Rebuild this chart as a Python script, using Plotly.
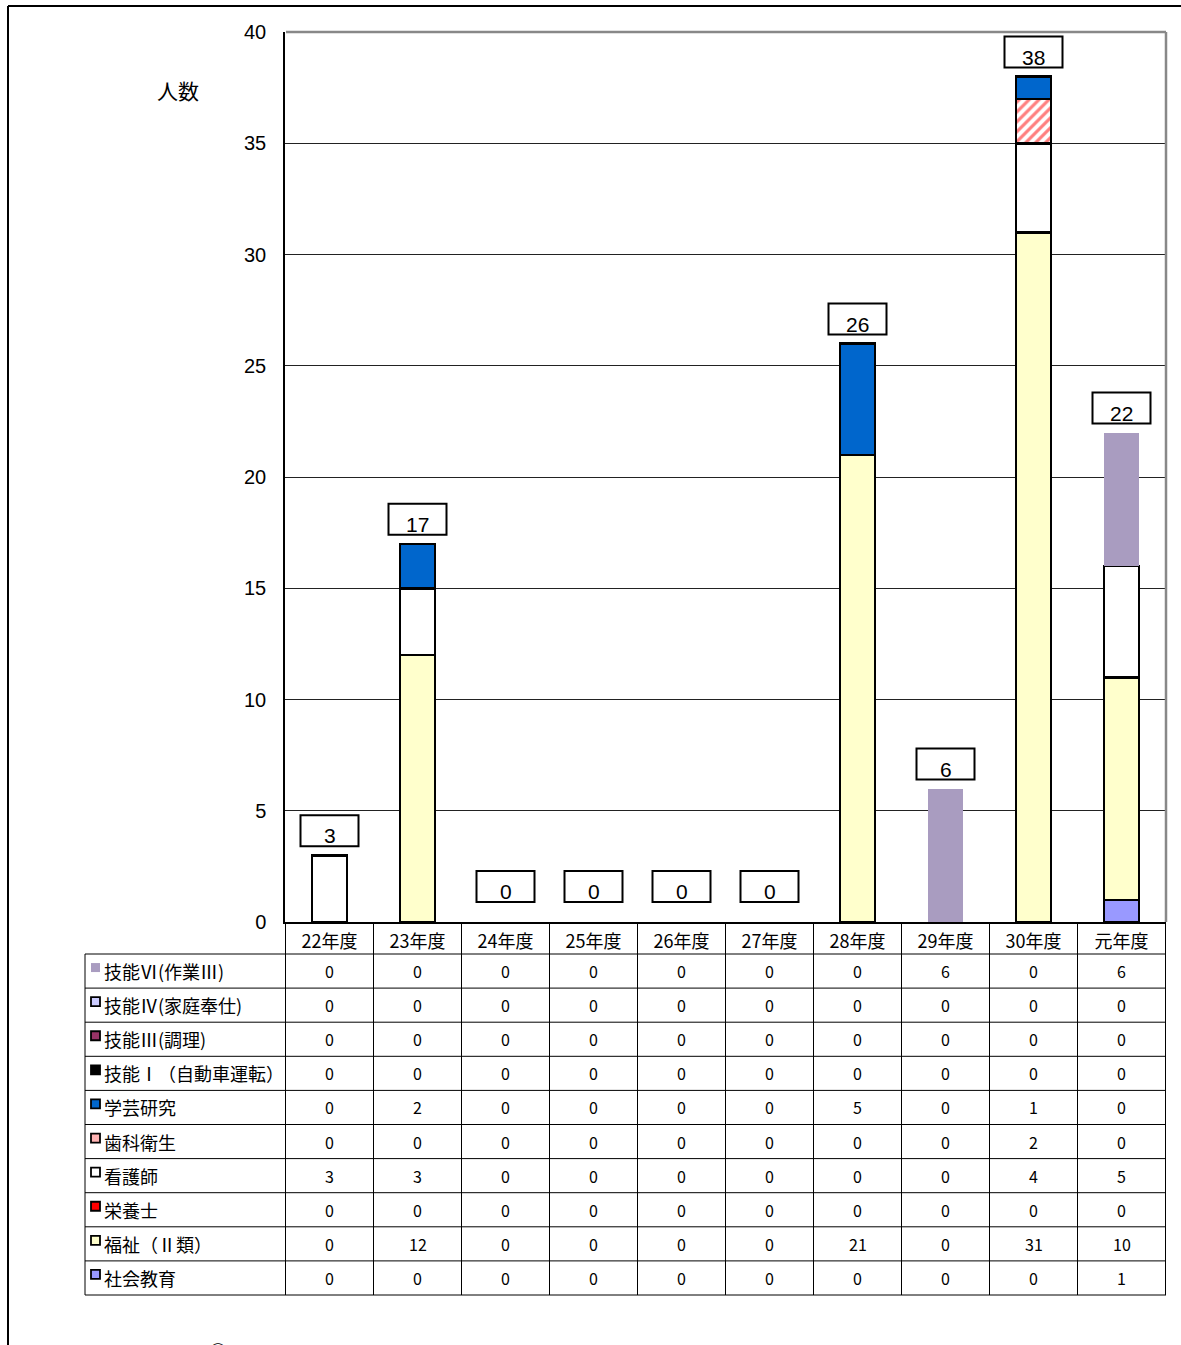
import plotly.graph_objects as go

# ---------------- data ----------------
categories = ["22年度", "23年度", "24年度", "25年度", "26年度", "27年度", "28年度", "29年度", "30年度", "元年度"]

# table rows (top to bottom)
row_names = ["技能Ⅵ(作業Ⅲ)", "技能Ⅳ(家庭奉仕)", "技能Ⅲ(調理)", "技能Ⅰ（自動車運転）",
             "学芸研究", "歯科衛生", "看護師", "栄養士", "福祉（Ⅱ類）", "社会教育"]

ginou6 = [0, 0, 0, 0, 0, 0, 0, 6, 0, 6]
ginou4 = [0, 0, 0, 0, 0, 0, 0, 0, 0, 0]
ginou3 = [0, 0, 0, 0, 0, 0, 0, 0, 0, 0]
ginou1 = [0, 0, 0, 0, 0, 0, 0, 0, 0, 0]
gakugei = [0, 2, 0, 0, 0, 0, 5, 0, 1, 0]
shika = [0, 0, 0, 0, 0, 0, 0, 0, 2, 0]
kango = [3, 3, 0, 0, 0, 0, 0, 0, 4, 5]
eiyou = [0, 0, 0, 0, 0, 0, 0, 0, 0, 0]
fukushi = [0, 12, 0, 0, 0, 0, 21, 0, 31, 10]
shakai = [0, 0, 0, 0, 0, 0, 0, 0, 0, 1]

rows = [ginou6, ginou4, ginou3, ginou1, gakugei, shika, kango, eiyou, fukushi, shakai]

y_ticks = [0, 5, 10, 15, 20, 25, 30, 35, 40]
y_title = "人数"
footer_mark = "○"

# ---------------- styles ----------------
fills = ["#A99CC0", "#CCCCFF", "#993366", "#000000", "#0066CC", "#FF7F7F",
         "#FFFFFF", "#FF0000", "#FFFFCC", "#9999FF"]
outlined = [False, True, True, True, True, True, True, True, True, True]
patterned = [False, False, False, False, False, True, False, False, False, False]

W, H = 1181, 1345
X0, X1 = 285, 1166      # plot area px
YT, YB = 32, 922        # plot area px
T_LEFT = 85
ROW_TOP, ROW_BOT = 954, 1295
JP = "Noto Sans CJK JP"
NUM = "Liberation Sans"


def px(x):
    return x / W


def py(y):
    return (H - y) / H


fig = go.Figure()

# stacked bars: bottom of stack = last table row
for i in reversed(range(len(rows))):
    vals = [v if v else None for v in rows[i]]
    marker = dict(color=fills[i],
                  line=dict(color="black", width=2.5 if outlined[i] else 0))
    if patterned[i]:
        marker["pattern"] = dict(shape="/", fgcolor="#FF7F7F", bgcolor="white",
                                 size=7, solidity=0.45, fillmode="replace")
    fig.add_trace(go.Bar(x=categories, y=vals, name=row_names[i], marker=marker,
                         width=0.4, showlegend=False, hoverinfo="skip"))

totals = [sum(r[j] for r in rows) for j in range(len(categories))]

shapes = []
annotations = []

# total labels in boxes
for c, t in zip(categories, totals):
    off = 9 if t else 20
    shapes.append(dict(type="rect", xref="x", yref="y", xsizemode="pixel", ysizemode="pixel",
                       xanchor=c, yanchor=t, x0=-29, x1=29, y0=off, y1=off + 31,
                       fillcolor="white", line=dict(color="black", width=2)))
    annotations.append(dict(x=c, y=t, xref="x", yref="y", text=str(t), showarrow=False,
                            xanchor="center", yanchor="bottom", yshift=off - 3,
                            font=dict(size=21, family=NUM, color="black")))

# outer frame
shapes.append(dict(type="line", xref="paper", yref="paper", x0=px(8), x1=px(8), y0=py(6), y1=py(1345 + 5),
                   line=dict(color="black", width=2)))
shapes.append(dict(type="line", xref="paper", yref="paper", x0=px(8), x1=px(1181 + 5), y0=py(6), y1=py(6),
                   line=dict(color="black", width=2)))
# plot area right / top border (grey)
shapes.append(dict(type="line", xref="paper", yref="paper", x0=px(X1), x1=px(X1), y0=py(YT), y1=py(YB),
                   line=dict(color="#888888", width=2.5)))
shapes.append(dict(type="line", xref="paper", yref="paper", x0=px(X0 + 1), x1=px(X1), y0=py(YT), y1=py(YT),
                   line=dict(color="#888888", width=2.5)))

# table grid
n = len(row_names)
row_h = (ROW_BOT - ROW_TOP) / n
for k in range(n + 1):
    yy = ROW_TOP + k * row_h
    shapes.append(dict(type="line", xref="paper", yref="paper", x0=px(T_LEFT), x1=px(X1),
                       y0=py(yy), y1=py(yy), line=dict(color="black", width=1)))
shapes.append(dict(type="line", xref="paper", yref="paper", x0=px(T_LEFT), x1=px(T_LEFT),
                   y0=py(ROW_TOP), y1=py(ROW_BOT), line=dict(color="black", width=1)))
for k in range(len(categories) + 1):
    shapes.append(dict(type="line", xref="x", yref="paper", x0=k - 0.5, x1=k - 0.5,
                       y0=py(YB), y1=py(ROW_BOT), line=dict(color="black", width=1)))

# row labels, markers and values
for i, name in enumerate(row_names):
    yc = ROW_TOP + (i + 0.5) * row_h
    annotations.append(dict(x=px(102), y=py(yc), xref="paper", yref="paper", text=name,
                            showarrow=False, xanchor="left", yanchor="middle",
                            font=dict(size=18, family=JP, color="black")))
    shapes.append(dict(type="rect", xref="paper", yref="paper", x0=px(91), x1=px(100),
                       y0=py(yc - 8), y1=py(yc + 1), fillcolor=fills[i] if not patterned[i] else "#FFB3B3",
                       line=dict(color="black", width=1.8 if outlined[i] else 0)))
    for c, v in zip(categories, rows[i]):
        annotations.append(dict(x=c, y=py(yc), xref="x", yref="paper", text=str(v),
                                showarrow=False, xanchor="center", yanchor="middle",
                                font=dict(size=16, family=JP, color="black")))

# y title
annotations.append(dict(x=px(178), y=py(90), xref="paper", yref="paper", text=y_title,
                        showarrow=False, xanchor="center", yanchor="middle",
                        font=dict(size=21, family=JP, color="black")))
# partially visible mark at the bottom edge
annotations.append(dict(x=px(218), y=py(1336), xref="paper", yref="paper", text=footer_mark,
                        showarrow=False, xanchor="center", yanchor="top",
                        font=dict(size=20, family=JP, color="black")))

fig.update_layout(
    width=W, height=H, margin=dict(l=0, r=0, t=0, b=0, pad=0, autoexpand=False),
    paper_bgcolor="white", plot_bgcolor="white",
    barmode="stack", bargap=0.6, showlegend=False,
    shapes=shapes, annotations=annotations,
    xaxis=dict(domain=[px(X0), px(X1)], type="category", showgrid=False, automargin=False,
               showline=True, linecolor="black", linewidth=1.5, ticks="",
               tickfont=dict(size=18, family=JP, color="black"), ticklabelstandoff=3,
               fixedrange=True),
    yaxis=dict(domain=[py(YB), py(YT)], range=[0, 40], tickvals=y_ticks, automargin=False,
               showgrid=True, gridcolor="#222222", gridwidth=1,
               showline=True, linecolor="black", linewidth=1.5, ticks="",
               ticklabelstandoff=13, zeroline=False,
               tickfont=dict(size=20, family=NUM, color="black"), fixedrange=True),
)

fig.write_html("out.html")
